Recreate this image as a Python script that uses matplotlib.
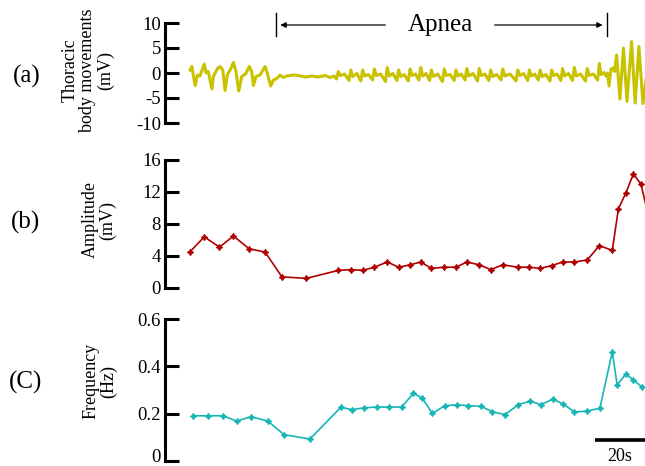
import matplotlib
matplotlib.use("Agg")
import matplotlib.pyplot as plt
from matplotlib.transforms import ScaledTranslation

plt.rcParams['font.family'] = ['Liberation Serif', 'DejaVu Serif']
plt.rcParams['axes.unicode_minus'] = False

# ---------------- data (time in seconds) ----------------
# (a) thoracic signal vertices, pre-apnea breathing
pre_t = [0.0, 0.7, 2.0, 2.9, 3.9, 5.6, 6.3, 7.2, 8.6, 9.2, 10.8, 11.8, 12.9, 13.8,
         14.7, 15.8, 17.1, 18.1, 19.2, 20.4, 22.0, 23.4, 24.3, 25.0, 26.0, 27.6,
         29.6, 30.5, 31.8, 32.9, 34.2, 35.5, 36.8, 38.1, 40.8, 42.7, 45.4, 48.1,
         50.5, 53.3, 55.2, 56.8, 57.8]
pre_v = [0.6, 1.3, -2.5, -0.4, -0.6, 1.8, 0.0, 0.3, -3.2, -0.7, 0.9, 1.3, 0.6, -3.5,
         -0.4, 0.6, 2.1, 0.3, -3.6, -0.7, -0.1, 1.3, 0.3, -2.5, -0.7, -0.4,
         1.3, -0.1, -2.6, -1.4, -1.1, -0.4, -0.9, -0.6, -0.4, -0.5, -0.8, -0.6,
         -0.8, -0.5, -0.9, -0.6, -1.2]
# apnea: peaks, falls, bumps, troughs
ap_peak_t = [58.5, 63.4, 68.1, 72.7, 77.8, 82.3, 86.8, 91.0, 95.2, 100.3, 104.9, 109.2,
             114.1, 118.6, 123.4, 129.3, 133.9, 138.1, 142.7, 147.0, 151.6, 156.7, 161.5]
ap_peak_v = [0.3, 0.6, 0.6, 0.8, 1.1, 0.6, 0.8, 1.1, 0.6, 0.8, 0.6, 0.9,
             0.9, 0.6, 0.8, 0.6, 0.6, 0.6, 0.6, 0.9, 1.1, 0.9, 1.9]
ap_fall_t = [59.3, 64.2, 68.9, 73.5, 78.6, 83.1, 87.6, 91.8, 96.0, 101.1, 105.7, 110.0,
             114.9, 119.4, 124.2, 130.1, 134.7, 138.9, 143.5, 147.8, 152.4, 157.5]
ap_fall_v = [-0.5, -0.7, -0.6, -0.5, -0.6, -0.7, -0.5, -0.6, -0.7, -0.5, -0.6, -0.6,
             -0.5, -0.7, -0.6, -0.5, -0.6, -0.7, -0.5, -0.6, -0.6, -0.5]
ap_bump_t = [61.0, 65.8, 70.4, 75.2, 80.0, 84.5, 88.9, 93.1, 97.7, 102.6, 107.0, 111.6,
             116.3, 121.0, 126.3, 131.6, 136.0, 140.4, 144.8, 149.3, 154.1, 159.1]
ap_bump_v = [-0.2, -0.1, -0.3, -0.2, -0.1, -0.3, -0.2, -0.1, -0.2, -0.3, -0.2, -0.1,
             -0.2, -0.3, -0.2, -0.1, -0.2, -0.3, -0.2, -0.1, -0.2, -0.2]
ap_trough_t = [62.7, 67.4, 72.0, 77.1, 81.6, 86.1, 90.3, 94.5, 99.6, 104.2, 108.5, 113.4,
               117.9, 122.7, 128.6, 133.2, 137.4, 142.0, 146.3, 150.9, 156.0, 160.8]
ap_trough_v = [-1.5, -1.6, -1.4, -1.7, -1.5, -1.6, -1.4, -1.5, -1.7, -1.5, -1.4, -1.6,
               -1.5, -1.4, -1.6, -1.5, -1.4, -1.6, -1.5, -1.5, -1.6, -1.4]
# recovery breathing
post_t = [162.1, 163.3, 164.1, 164.7, 165.3, 166.1, 166.9, 167.5, 168.3, 169.6, 171.0,
          172.4, 174.2, 175.6, 177.1, 178.7, 181.0]
post_v = [-0.3, 0.1, -0.6, 0.0, -2.6, 0.8, 1.0, 0.3, 3.6, -5.2, 5.0,
          -5.7, 6.3, -6.0, 5.3, -6.1, 3.0]

# (b) amplitude
amp_t = [0.0, 5.6, 11.6, 17.1, 23.3, 29.6, 36.2, 45.8, 58.5, 63.4, 68.1, 72.7, 77.8,
         82.3, 86.8, 91.0, 95.2, 100.3, 104.9, 109.2, 114.1, 118.6, 123.4, 129.3,
         133.9, 138.1, 142.7, 147.0, 151.6, 156.7, 161.5, 166.6, 169.0, 172.0, 174.9,
         177.9, 181.0]
amp_v = [4.54, 6.4, 5.1, 6.5, 4.9, 4.5, 1.4, 1.2, 2.2, 2.3, 2.2, 2.6, 3.25,
         2.6, 2.9, 3.25, 2.45, 2.6, 2.6, 3.25, 2.9, 2.3, 2.9, 2.6,
         2.6, 2.45, 2.8, 3.25, 3.25, 3.5, 5.3, 4.7, 9.9, 11.9, 14.25,
         13.0, 8.8]

# (c) frequency
freq_t = [1.3, 7.2, 12.9, 18.4, 24.1, 30.7, 37.1, 47.3, 59.5, 63.8, 68.8, 73.7, 78.6,
          83.5, 88.1, 91.6, 95.6, 100.6, 105.4, 109.8, 114.8, 119.3, 124.3, 129.5,
          134.1, 138.4, 143.1, 147.3, 151.6, 156.7, 161.7, 166.6, 168.5, 172.0, 174.9,
          178.2]
freq_v = [0.191, 0.191, 0.191, 0.169, 0.187, 0.169, 0.111, 0.093, 0.227, 0.217, 0.225,
          0.228, 0.228, 0.228, 0.286, 0.266, 0.201, 0.234, 0.237, 0.234, 0.231, 0.208,
          0.196, 0.238, 0.253, 0.238, 0.261, 0.241, 0.207, 0.211, 0.223, 0.462, 0.321,
          0.368, 0.342, 0.314]

top_ticks = [-10, -5, 0, 5, 10]
amp_ticks = [0, 4, 8, 12, 16]
freq_ticks = [0, 0.2, 0.4, 0.6]
freq_ticklabels = ['0', '0.2', '0.4', '0.6']

# build signal vertex list from the read vertices
sig = list(zip(pre_t, pre_v))
sig += list(zip(ap_peak_t, ap_peak_v)) + list(zip(ap_fall_t, ap_fall_v))
sig += list(zip(ap_bump_t, ap_bump_v)) + list(zip(ap_trough_t, ap_trough_v))
sig += list(zip(post_t, post_v))
sig.sort()
sig_t = [p[0] for p in sig]
sig_v = [p[1] for p in sig]

# ---------------- figure ----------------
W, H = 645, 466
fig = plt.figure(figsize=(W / 100, H / 100), dpi=100)

def px_axes(top, bottom):
    return fig.add_axes([165 / W, (H - bottom) / H, 480 / W, (bottom - top) / H])

XL = (-9.9, 179.5)
ax1 = px_axes(23, 123)
ax2 = px_axes(160, 288)
ax3 = px_axes(319, 461)

for ax in (ax1, ax2, ax3):
    for s in ('top', 'right', 'bottom'):
        ax.spines[s].set_visible(False)
    ax.spines['left'].set_linewidth(2.2)
    ax.set_xlim(*XL)
    ax.set_xticks([])
    ax.tick_params(axis='y', direction='in', length=10, width=2.2, labelsize=13.5, pad=3)
    ax.patch.set_alpha(0)

ax1.plot(sig_t, sig_v, color='#c8c200', lw=2.2, solid_joinstyle='round')
ax1.set_ylim(-10, 10)
ax1.set_yticks(top_ticks)

mk = (4, 1, 0)
ax2.plot(amp_t, amp_v, color='#b00000', lw=1.2, marker=mk, ms=4.5, mew=0.8)
ax2.set_ylim(0, 16)
ax2.set_yticks(amp_ticks)

ax3.plot(freq_t, freq_v, color='#17b5b5', lw=1.2, marker=mk, ms=4.5, mew=0.8)
ax3.set_ylim(0, 0.6)
ax3.set_yticks(freq_ticks)
ax3.set_yticklabels(freq_ticklabels)
for lbl in ax3.get_yticklabels():
    if lbl.get_text() == '0':
        lbl.set_transform(lbl.get_transform() + ScaledTranslation(0, 5 / 100, fig.dpi_scale_trans))

# Apnea annotation
ax1.plot([33.9, 33.9], [7.4, 12.0], color='black', lw=1.0, clip_on=False)
ax1.plot([164.5, 164.5], [7.4, 12.0], color='black', lw=1.0, clip_on=False)
arrow_kw = dict(arrowstyle='-|>', color='black', lw=0.9, mutation_scale=8)
ax1.annotate('', xy=(34.5, 9.6), xytext=(78.1, 9.6), arrowprops=arrow_kw, annotation_clip=False)
ax1.annotate('', xy=(163.9, 9.6), xytext=(119.1, 9.6), arrowprops=arrow_kw, annotation_clip=False)
ax1.text(98.6, 8.4, 'Apnea', ha='center', va='baseline', fontsize=18, clip_on=False)

# scale bar
ax3.plot([159.6, 179.5], [0.089, 0.089], color='black', lw=2.6, solid_capstyle='butt', clip_on=False)
ax3.text(169.6, 0.0, '20s', ha='center', va='baseline', fontsize=13, clip_on=False)

# y labels and panel labels
def ftext(x, y, s, **kw):
    fig.text(x / W, 1 - y / H, s, **kw)

lab_kw = dict(rotation=90, ha='center', va='center', multialignment='center',
              fontsize=13, linespacing=1.05)
ftext(88, 70, 'Thoracic\nbody movements\n(mV)', **lab_kw)
ftext(99, 220, 'Amplitude\n(mV)', **lab_kw)
ftext(100, 381, 'Frequency\n(Hz)', **lab_kw)

ftext(27, 76, '(a)', ha='center', va='center', fontsize=18)
ftext(26, 222, '(b)', ha='center', va='center', fontsize=18)
ftext(26, 382, '(C)', ha='center', va='center', fontsize=18)

fig.savefig('out.png', dpi=100)
